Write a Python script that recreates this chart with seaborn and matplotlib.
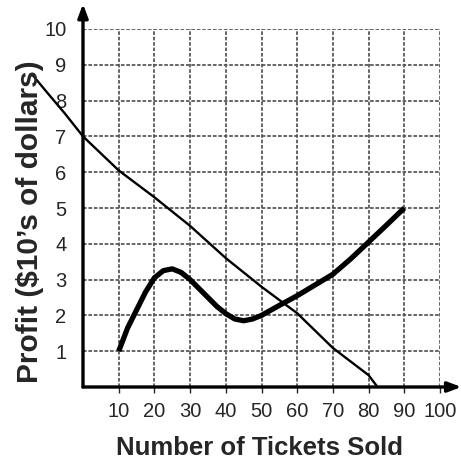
import matplotlib.pyplot as plt
import seaborn as sns

# values
x_ticks = [10, 20, 30, 40, 50, 60, 70, 80, 90, 100]
y_ticks = [1, 2, 3, 4, 5, 6, 7, 8, 9, 10]

thin_x = [-14, -10, -5, 0, 10, 20, 30, 40, 50, 60, 70, 80, 82.5]
thin_y = [8.7, 8.22, 7.63, 7.0, 6.05, 5.3, 4.5, 3.6, 2.8, 2.06, 1.09, 0.33, 0.0]

thick_x = [10, 12.5, 15, 17.5, 20, 22.5, 25, 27.5, 30, 32.5, 35, 37.5, 40, 42.5, 45,
           47.5, 50, 55, 60, 65, 70, 75, 80, 85, 90]
thick_y = [1.0, 1.65, 2.15, 2.65, 3.05, 3.25, 3.3, 3.2, 3.0, 2.75, 2.5, 2.25, 2.05, 1.9, 1.85,
           1.9, 2.0, 2.28, 2.55, 2.85, 3.15, 3.58, 4.05, 4.52, 5.0]

sns.set_style('white')
plt.rcParams['font.family'] = ['Liberation Sans', 'DejaVu Sans']

fig = plt.figure(figsize=(4.61, 4.65), dpi=100)
ax = fig.add_axes([83 / 461, 78 / 465, 357 / 461, 358 / 465])

ax.set_xlim(0, 100)
ax.set_ylim(0, 10)

# grid
for gx in x_ticks:
    ax.axvline(gx, color='0.35', lw=1.3, ls=(0, (2, 1)), zorder=1)
for gy in y_ticks:
    ax.axhline(gy, color='0.35', lw=1.3, ls=(0, (2, 1)), zorder=1)

sns.lineplot(x=thin_x, y=thin_y, ax=ax, color='black', lw=1.7, sort=False, clip_on=False, zorder=3)
sns.lineplot(x=thick_x, y=thick_y, ax=ax, color='black', lw=3.8, sort=False, zorder=3,
             solid_capstyle='butt')

for s in ax.spines.values():
    s.set_visible(False)

# axis arrows
ax.annotate('', xy=(106, 0), xytext=(0, 0), annotation_clip=False,
            arrowprops=dict(arrowstyle='-|>,head_length=0.8,head_width=0.3', lw=2.4, color='black',
                            shrinkA=0, shrinkB=0))
ax.annotate('', xy=(0, 10.7), xytext=(0, 0), annotation_clip=False,
            arrowprops=dict(arrowstyle='-|>,head_length=0.8,head_width=0.3', lw=2.4, color='black',
                            shrinkA=0, shrinkB=0))

ax.set_xticks(x_ticks)
ax.set_yticks(y_ticks)
ax.set_xticklabels([str(v) for v in x_ticks], fontsize=14.5)
ax.set_yticklabels([str(v) for v in y_ticks], fontsize=14.5)
ax.tick_params(axis='x', length=4, width=1, pad=7, direction='out', bottom=True)
ax.tick_params(axis='y', length=0, pad=12, left=True)

fig.text(260 / 461, 1 - 448 / 465, 'Number of Tickets Sold', ha='center', va='center',
         fontsize=18.5, fontweight='bold')
fig.text(30 / 461, 1 - 222 / 465, "Profit ($10\u2019s of dollars)", ha='center', va='center',
         rotation=90, fontsize=21.5, fontweight='bold')

fig.savefig('out.png', dpi=100)
